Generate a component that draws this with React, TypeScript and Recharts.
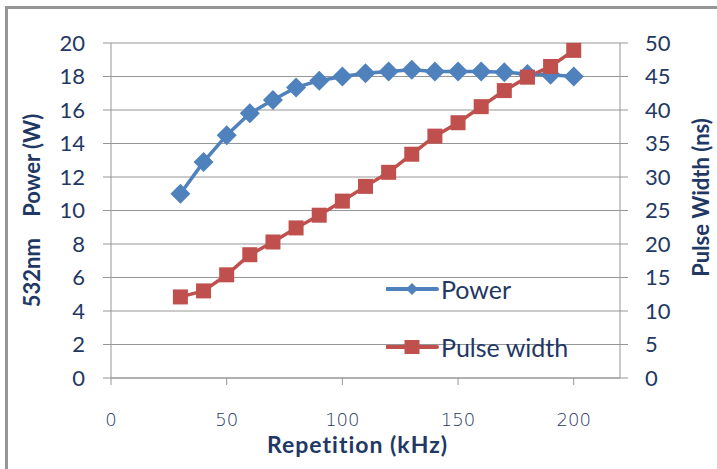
import { CartesianGrid, Legend, Line, LineChart, XAxis, YAxis } from 'recharts';

// repetition rate (kHz)
const repetition = [30, 40, 50, 60, 70, 80, 90, 100, 110, 120, 130, 140, 150, 160, 170, 180, 190, 200];
// 532nm power (W)
const power = [11.0, 12.9, 14.5, 15.8, 16.6, 17.35, 17.75, 18.0, 18.2, 18.3, 18.4, 18.3, 18.3, 18.3, 18.25, 18.15, 18.1, 18.0];
// pulse width (ns)
const pulseWidth = [12.1, 13.0, 15.4, 18.4, 20.3, 22.4, 24.3, 26.4, 28.6, 30.7, 33.4, 36.1, 38.1, 40.5, 42.9, 44.9, 46.5, 48.9];

const xTicks = [0, 50, 100, 150, 200];
const powerTicks = [0, 2, 4, 6, 8, 10, 12, 14, 16, 18, 20];
const widthTicks = [0, 5, 10, 15, 20, 25, 30, 35, 40, 45, 50];

const BLUE = '#4f81bd';
const RED = '#c0504d';
const NAVY = '#1f3864';
const GRID = '#969696';
const FONT = 'Lato, "Open Sans", sans-serif';

const data = repetition.map((rep, i) => ({ rep, power: power[i], width: pulseWidth[i] }));

const Diamond = (props: any) => {
  const { cx, cy, index } = props;
  if (cx == null || cy == null) return null;
  const r = 10;
  return <path key={index} d={`M${cx},${cy - r}L${cx + r},${cy}L${cx},${cy + r}L${cx - r},${cy}Z`} fill={BLUE} />;
};

const Square = (props: any) => {
  const { cx, cy, index } = props;
  if (cx == null || cy == null) return null;
  const s = 15;
  return <rect key={index} x={cx - s / 2} y={cy - s / 2} width={s} height={s} fill={RED} />;
};

const legendItems = [
  { name: 'Power', color: BLUE, shape: 'diamond' },
  { name: 'Pulse width', color: RED, shape: 'square' },
];

const renderLegend = () => (
  <div style={{ fontFamily: FONT, fontSize: 25, color: NAVY }}>
    {legendItems.map(item => (
      <div key={item.name} style={{ display: 'flex', alignItems: 'center', height: 58 }}>
        <svg width={55} height={20}>
          <line x1={1} y1={10} x2={51} y2={10} stroke={item.color} strokeWidth={4} strokeLinecap="round" />
          {item.shape === 'diamond' ? (
            <path d="M26,4L32,10L26,16L20,10Z" fill={item.color} />
          ) : (
            <rect x={18.5} y={3} width={15} height={14} fill={item.color} />
          )}
        </svg>
        <span>{item.name}</span>
      </div>
    ))}
  </div>
);

export default function App() {
  return (
    <div
      style={{
        position: 'absolute',
        left: 5,
        top: 6,
        width: 712,
        height: 463,
        borderLeft: `3px solid ${GRID}`,
        borderTop: `3px solid ${GRID}`,
        background: '#fff',
      }}
    >
      <LineChart width={709} height={460} data={data} margin={{ top: 34, right: 0, bottom: 0, left: 0 }}>
        <CartesianGrid yAxisId="left" vertical={false} stroke={GRID} />
        <XAxis
          dataKey="rep"
          type="number"
          domain={[0, 220]}
          ticks={xTicks}
          height={91}
          tickSize={7}
          tickMargin={28}
          axisLine={{ stroke: GRID }}
          tickLine={{ stroke: GRID }}
          tick={{ fill: NAVY, fontSize: 18, fontFamily: '"DejaVu Sans", sans-serif', fontWeight: 200 }}
          label={{
            value: 'Repetition (kHz)',
            position: 'insideBottom',
            offset: 16,
            dx: -8,
            fill: NAVY,
            fontSize: 23,
            fontWeight: 700,
            fontFamily: FONT,
            letterSpacing: 1,
          }}
        />
        <YAxis
          yAxisId="left"
          domain={[0, 20]}
          ticks={powerTicks}
          width={103}
          tickSize={8}
          tickMargin={18}
          axisLine={{ stroke: GRID }}
          tickLine={{ stroke: GRID }}
          tick={{ fill: NAVY, fontSize: 22, fontFamily: FONT }}
          label={{
            value: '532nm\u00A0\u00A0\u00A0\u00A0Power (W)',
            angle: -90,
            position: 'center',
            dx: -27,
            fill: NAVY,
            fontSize: 22,
            fontWeight: 700,
            fontFamily: FONT,
          }}
        />
        <YAxis
          yAxisId="right"
          orientation="right"
          domain={[0, 50]}
          ticks={widthTicks}
          width={97}
          tickSize={8}
          tickMargin={17}
          axisLine={{ stroke: GRID }}
          tickLine={{ stroke: GRID }}
          tick={{ fill: NAVY, fontSize: 22, fontFamily: FONT }}
          label={{
            value: 'Pulse Width (ns)',
            angle: -90,
            position: 'center',
            dx: 33,
            dy: -13,
            fill: NAVY,
            fontSize: 22,
            fontWeight: 700,
            fontFamily: FONT,
          }}
        />
        <Legend
          content={renderLegend}
          layout="horizontal"
          verticalAlign="middle"
          align="center"
          wrapperStyle={{ left: 378, top: 251, width: 'auto' }}
        />
        <Line
          yAxisId="left"
          dataKey="power"
          name="Power"
          stroke={BLUE}
          strokeWidth={3.5}
          dot={Diamond}
          activeDot={false}
          isAnimationActive={false}
        />
        <Line
          yAxisId="right"
          dataKey="width"
          name="Pulse width"
          stroke={RED}
          strokeWidth={3.5}
          dot={Square}
          activeDot={false}
          isAnimationActive={false}
        />
      </LineChart>
    </div>
  );
}
